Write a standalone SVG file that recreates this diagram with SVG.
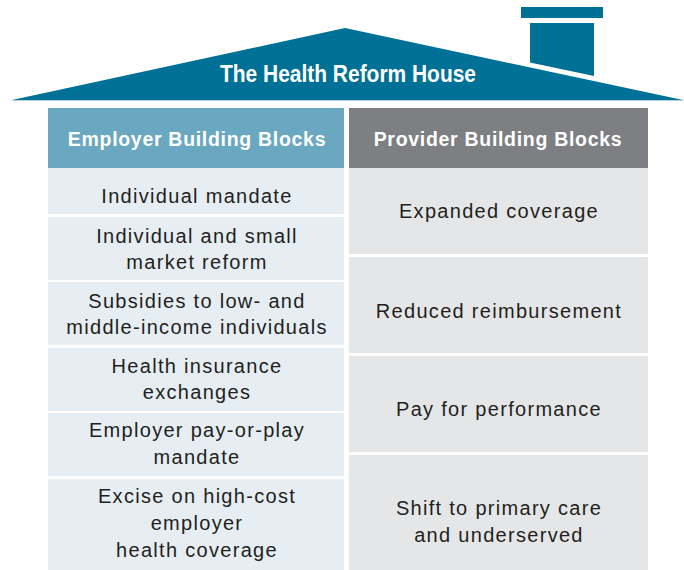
<svg xmlns="http://www.w3.org/2000/svg" width="684" height="570" viewBox="0 0 684 570">
  <style>
    .roof { fill: #007196; }
    .hdr-emp { fill: #6aa8c1; }
    .hdr-prov { fill: #7e7f83; }
    .cell-emp { fill: #e6edf3; }
    .cell-prov { fill: #e5e6e8; }
    .hdr-text { font-family: "Liberation Sans", Arial, sans-serif; font-weight: bold; font-size: 19.5px; letter-spacing: 0.7px; fill: #ffffff; text-anchor: middle; }
    .body-text { font-family: "Liberation Sans", Arial, sans-serif; font-size: 20px; letter-spacing: 1.3px; fill: #231f20; text-anchor: middle; }
    .title-text { font-family: "Liberation Sans", Arial, sans-serif; font-weight: bold; font-size: 23px; fill: #ffffff; text-anchor: middle; }
  </style>
  <rect width="684" height="570" fill="#ffffff"/>

  <!-- roof and chimney -->
  <g id="roof">
    <polygon class="roof" points="12,100 345,28 683,100"/>
    <line x1="12" y1="100.5" x2="683" y2="100.5" stroke="#b4d6e2" stroke-width="1"/>
    <rect class="roof" x="521" y="7" width="82" height="11"/>
    <polygon class="roof" points="530,23 594,23 594,76 530,62.5"/>
    <text class="title-text" x="348" y="82" textLength="256" lengthAdjust="spacingAndGlyphs">The Health Reform House</text>
  </g>

  <!-- column headers -->
  <g id="employer-header">
    <rect class="hdr-emp" x="48" y="108" width="296" height="60"/>
    <text class="hdr-text" x="197" y="146">Employer Building Blocks</text>
  </g>
  <g id="provider-header">
    <rect class="hdr-prov" x="349" y="108" width="299" height="60"/>
    <text class="hdr-text" x="498" y="146">Provider Building Blocks</text>
  </g>

  <!-- employer building blocks -->
  <g id="emp-individual-mandate">
    <rect class="cell-emp" x="48" y="168" width="296" height="46"/>
    <text class="body-text" x="197" y="203">Individual mandate</text>
  </g>
  <g id="emp-market-reform">
    <rect class="cell-emp" x="48" y="217" width="296" height="63"/>
    <text class="body-text" x="197" y="243">Individual and small</text>
    <text class="body-text" x="197" y="269">market reform</text>
  </g>
  <g id="emp-subsidies">
    <rect class="cell-emp" x="48" y="282" width="296" height="63"/>
    <text class="body-text" x="197" y="308">Subsidies to low- and</text>
    <text class="body-text" x="197" y="334">middle-income individuals</text>
  </g>
  <g id="emp-exchanges">
    <rect class="cell-emp" x="48" y="348" width="296" height="63"/>
    <text class="body-text" x="197" y="373">Health insurance</text>
    <text class="body-text" x="197" y="399">exchanges</text>
  </g>
  <g id="emp-pay-or-play">
    <rect class="cell-emp" x="48" y="413" width="296" height="63"/>
    <text class="body-text" x="197" y="437">Employer pay-or-play</text>
    <text class="body-text" x="197" y="464">mandate</text>
  </g>
  <g id="emp-excise">
    <rect class="cell-emp" x="48" y="479" width="296" height="91"/>
    <text class="body-text" x="197" y="503">Excise on high-cost</text>
    <text class="body-text" x="197" y="530">employer</text>
    <text class="body-text" x="197" y="557">health coverage</text>
  </g>

  <!-- provider building blocks -->
  <g id="prov-expanded-coverage">
    <rect class="cell-prov" x="349" y="168" width="299" height="86"/>
    <text class="body-text" x="499" y="218">Expanded coverage</text>
  </g>
  <g id="prov-reduced-reimbursement">
    <rect class="cell-prov" x="349" y="257" width="299" height="96"/>
    <text class="body-text" x="499" y="318">Reduced reimbursement</text>
  </g>
  <g id="prov-pay-for-performance">
    <rect class="cell-prov" x="349" y="356" width="299" height="96"/>
    <text class="body-text" x="499" y="416">Pay for performance</text>
  </g>
  <g id="prov-primary-care">
    <rect class="cell-prov" x="349" y="455" width="299" height="115"/>
    <text class="body-text" x="499" y="515">Shift to primary care</text>
    <text class="body-text" x="499" y="542">and underserved</text>
  </g>
</svg>
